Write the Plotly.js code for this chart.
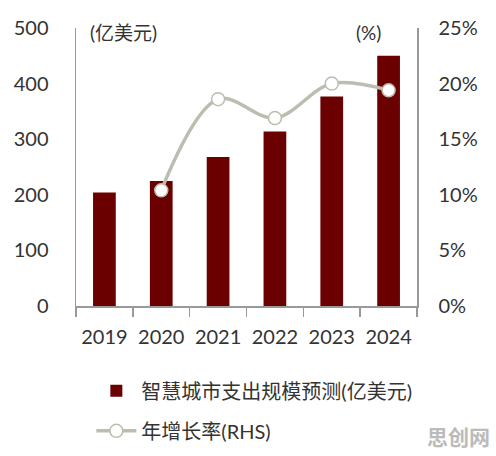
<!DOCTYPE html>
<html>
<head>
<meta charset="utf-8">
<script src="https://cdn.plot.ly/plotly-3.0.1.min.js"></script>
<style>html,body{margin:0;padding:0;background:#fff;}#chart{width:496px;height:456px;}</style>
</head>
<body>
<div id="chart"></div>
<script>
const years = ['2019', '2020', '2021', '2022', '2023', '2024'];
const spending = [204, 225, 268, 314, 377, 450];
const growthYears = ['2020', '2021', '2022', '2023', '2024'];
const growth = [10.4, 18.6, 16.9, 20.0, 19.4];
const barName = '智慧城市支出规模预测(亿美元)';
const lineName = '年增长率(RHS)';

const FONT = 'Lato, "Noto Sans CJK SC", sans-serif';
const data = [
  {
    type: 'bar', x: years, y: spending, name: barName, legendgroup: 'g1',
    marker: {color: '#6b0000'}, yaxis: 'y'
  },
  {
    type: 'scatter', mode: 'lines+markers', x: growthYears, y: growth, name: lineName,
    legendgroup: 'g2', yaxis: 'y2',
    line: {color: '#bdbcb0', width: 3.5, shape: 'spline', smoothing: 1},
    marker: {color: '#ffffff', size: 13, line: {color: '#bdbcb0', width: 1.5}}
  }
];
const layout = {
  width: 496, height: 456,
  margin: {l: 76, r: 79, t: 28, b: 150, autoexpand: false},
  paper_bgcolor: '#fff', plot_bgcolor: '#fff',
  font: {family: FONT, color: '#333', size: 19},
  bargap: 0.6,
  showlegend: true,
  legend: {x: 0.045, xanchor: 'left', y: -0.235, yanchor: 'top', orientation: 'v',
    font: {size: 20, color: '#333'}, tracegroupgap: 11, itemwidth: 40, borderwidth: 0},
  xaxis: {
    type: 'category', showline: true, linecolor: '#999', linewidth: 1.5,
    ticks: 'outside', tickson: 'boundaries', ticklen: 9, tickcolor: '#999', tickwidth: 1.5,
    showgrid: false, zeroline: false, tickfont: {size: 20}, ticklabelstandoff: 12
  },
  yaxis: {
    range: [0, 500], dtick: 100, showline: true, linecolor: '#999', linewidth: 1.5,
    showgrid: false, zeroline: false, ticks: '', ticklabelstandoff: 22, tickfont: {size: 20}
  },
  yaxis2: {
    overlaying: 'y', side: 'right', range: [0, 25], dtick: 5, ticksuffix: '%',
    showline: true, linecolor: '#999', linewidth: 1.5, showgrid: false, zeroline: false,
    ticks: '', ticklabelstandoff: 16, tickfont: {size: 20}
  },
  annotations: [
    {xref: 'paper', yref: 'paper', x: 0.035, y: 0.985, xanchor: 'left', yanchor: 'middle',
      text: '(亿美元)', showarrow: false, font: {size: 19, color: '#333'}},
    {xref: 'paper', yref: 'paper', x: 0.9, y: 0.985, xanchor: 'right', yanchor: 'middle',
      text: '(%)', showarrow: false, font: {size: 19, color: '#333'}},
    {xref: 'paper', yref: 'paper', x: 1.22, y: -0.47, xanchor: 'right', yanchor: 'middle',
      text: '<b>思创网</b>', showarrow: false, font: {size: 21, color: '#bbbbbb'}}
  ]
};
Plotly.newPlot('chart', data, layout, {displayModeBar: false, staticPlot: true});
</script>
</body>
</html>
